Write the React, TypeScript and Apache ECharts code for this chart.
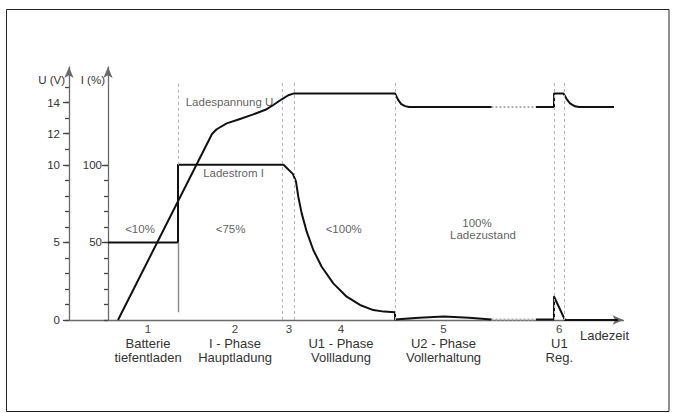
import React, { useEffect, useRef } from "react";
import * as echarts from "echarts";

// ---- Axis ticks and labels ----
const uMax = 16.3;
const uMinorTickTop = 15;
const uMinorTickStep = 1;
const uLabelValues = [0, 5, 10, 12, 14];
const iMax = 163;
const iMinorTickTop = 100;
const iMinorTickStep = 10;
const iLabelValues = [50, 100];
const axisTitles = ["U (V)", "I (%)"];

// ---- Phases along the time axis ----
const timeMax = 55.45;
const phaseCenters = [7.9, 16.6, 22.0, 27.2, 37.45, 49.03];
const phaseNumbers = ["1", "2", "3", "4", "5", "6"];
const phaseTitles = ["Batterie", "I - Phase", "", "U1 - Phase", "U2 - Phase", "U1"];
const phaseSubtitles = ["tiefentladen", "Hauptladung", "", "Vollladung", "Vollerhaltung", "Reg."];
const timeAxisTitle = "Ladezeit";
const timeAxisTitleAt = 53.55;

// phase boundaries (time) with dashed part from / to (voltage scale)
const dividerTimes = [10.9, 21.3, 22.5, 32.63, 48.53, 49.53];
const dividerFrom = [10, 0, 0, 0, 0, 0];
const dividerTop = 15.27;
const firstDividerSolid = [0.5, 5];

// ---- Charging voltage U (V) ----
const voltageBefore: [number, number][] = [
  [4.9, 0], [14.3, 11.98], [14.77, 12.29], [15.77, 12.67], [17.1, 12.95],
  [18.43, 13.25], [19.77, 13.58], [20.43, 13.85], [21.27, 14.22], [21.93, 14.48],
  [22.5, 14.6], [32.6, 14.6], [32.9, 14.2], [33.2, 13.92], [33.6, 13.78],
  [34.0, 13.72], [42.25, 13.72],
];
const voltageGap: [number, number][] = [[42.25, 13.72], [46.7, 13.72]];
const voltageAfter: [number, number][] = [
  [46.7, 13.72], [48.5, 13.72], [48.51, 14.6], [49.45, 14.6], [49.75, 14.25],
  [50.1, 13.95], [50.6, 13.77], [51.0, 13.72], [54.5, 13.72],
];

// ---- Charging current I (%) ----
const currentBefore: [number, number][] = [
  [3.9, 50], [10.9, 50], [10.9, 100], [21.45, 100], [22.4, 94], [22.7, 89.1],
  [22.93, 79.4], [23.27, 68.7], [23.77, 56.9], [24.43, 45.1], [25.27, 34.3],
  [26.43, 23.6], [27.77, 15.0], [29.1, 9.7], [30.43, 6.4], [31.5, 5.4],
  [32.6, 5.0], [32.61, 0.4], [35.0, 1.5], [37.5, 2.2], [40.0, 1.5], [42.25, 0.4],
];
const currentGap: [number, number][] = [[42.25, 0.4], [46.7, 0.3]];
const currentAfter: [number, number][] = [
  [46.7, 0.3], [48.5, 0.3], [48.51, 15], [49.6, 0], [54.9, 0],
];

// ---- Annotations (time, voltage scale) ----
const noteTexts = ["Ladespannung U", "Ladestrom I", "<10%", "<75%", "<100%", "100%", "Ladezustand"];
const noteTimes = [16.05, 16.45, 7.1, 16.16, 27.47, 40.8, 41.4];
const noteVolts = [14.05, 9.45, 5.84, 5.84, 5.84, 6.27, 5.48];

const FONT = "'Liberation Sans', Arial, sans-serif";
const TEXT = "#333";
const AXIS = "#6a6a6a";
const CURVE = "#111";

export default function App() {
  const ref = useRef<HTMLDivElement>(null);

  useEffect(() => {
    if (!ref.current) return;
    const chart = echarts.init(ref.current, undefined, { renderer: "svg" });

    const GRID_LEFT = 69;
    const GRID_RIGHT = 52.5;
    const GRID_TOP = 67;
    const GRID_BOTTOM = 93;
    const plotH = 413 - GRID_TOP - GRID_BOTTOM;
    const pxPerVolt = plotH / uMax;
    const I_OFFSET = -39;

    const arrowLine = {
      show: true,
      onZero: false,
      symbol: ["none", "arrow"],
      symbolSize: [7, 11],
      lineStyle: { color: AXIS, width: 1.3 },
    };

    const dividerLines: any[] = dividerTimes.map((t, i) => [
      { coord: [t, dividerFrom[i]] },
      { coord: [t, dividerTop] },
    ]);
    dividerLines.push([
      { coord: [dividerTimes[0], firstDividerSolid[0]], lineStyle: { color: "#8a8a8a", type: "solid", width: 1.4 } },
      { coord: [dividerTimes[0], firstDividerSolid[1]] },
    ]);

    const hiddenX = (gridIndex: number) => ({
      type: "value", gridIndex, min: 0, max: timeMax, show: false,
    });

    const minorTickAxis = (gridIndex: number, max: number, step: number, offset: number) => ({
      type: "value", gridIndex, min: 0, max, interval: step, position: "left", offset,
      axisLine: { show: false, onZero: false },
      axisTick: { show: true, length: 4, lineStyle: { color: "#444", width: 1.3 } },
      axisLabel: { show: false },
      splitLine: { show: false },
    });

    const curve = (name: string, yAxisIndex: number, data: [number, number][]) => ({
      type: "line", name, xAxisIndex: 0, yAxisIndex, data, z: 4,
      showSymbol: false, symbol: "none",
      lineStyle: { color: CURVE, width: 2, join: "round" },
    });

    const option: any = {
      animation: false,
      backgroundColor: "#fff",
      textStyle: { fontFamily: FONT },
      grid: [
        { left: GRID_LEFT, right: GRID_RIGHT, top: GRID_TOP, bottom: GRID_BOTTOM },
        { left: GRID_LEFT, right: GRID_RIGHT, top: 413 - GRID_BOTTOM - (iMinorTickTop / iMax) * plotH, bottom: GRID_BOTTOM },
        { left: GRID_LEFT, right: GRID_RIGHT, top: 413 - GRID_BOTTOM - uMinorTickTop * pxPerVolt, bottom: GRID_BOTTOM },
      ],
      xAxis: [
        {
          type: "value",
          gridIndex: 0,
          min: 0,
          max: timeMax,
          axisLine: arrowLine,
          axisTick: { show: false },
          splitLine: { show: false },
          axisLabel: {
            show: true,
            customValues: [...phaseCenters, timeAxisTitleAt],
            margin: 2,
            color: TEXT,
            fontFamily: FONT,
            formatter: (v: number) => {
              if (Math.abs(v - timeAxisTitleAt) < 1e-6) return `{z|${timeAxisTitle}}`;
              const i = phaseCenters.findIndex((c) => Math.abs(c - v) < 1e-6);
              if (i < 0) return "";
              let s = `{n|${phaseNumbers[i]}}`;
              if (phaseTitles[i]) s += `\n{t|${phaseTitles[i]}}`;
              if (phaseSubtitles[i]) s += `\n{t|${phaseSubtitles[i]}}`;
              return s;
            },
            rich: {
              n: { fontSize: 11.5, lineHeight: 14, color: "#444", fontFamily: FONT, align: "center" },
              t: { fontSize: 13, lineHeight: 14, color: TEXT, fontFamily: FONT, align: "center" },
              z: { fontSize: 13, lineHeight: 26, color: TEXT, fontFamily: FONT, align: "center" },
            },
          },
        },
        hiddenX(1),
        hiddenX(2),
      ],
      yAxis: [
        {
          type: "value", gridIndex: 0, min: 0, max: uMax, position: "left",
          axisLine: arrowLine,
          axisTick: { show: true, customValues: uLabelValues, length: 6, lineStyle: { color: "#444", width: 1.3 } },
          axisLabel: { show: true, customValues: uLabelValues, margin: 9, fontSize: 11.5, color: TEXT, fontFamily: FONT },
          splitLine: { show: false },
        },
        {
          type: "value", gridIndex: 0, min: 0, max: iMax, position: "left", offset: I_OFFSET,
          axisLine: arrowLine,
          axisTick: { show: true, customValues: iLabelValues, length: 6, lineStyle: { color: "#444", width: 1.3 } },
          axisLabel: { show: true, customValues: iLabelValues, margin: 6, fontSize: 11.5, color: TEXT, fontFamily: FONT },
          splitLine: { show: false },
        },
        minorTickAxis(1, iMinorTickTop, iMinorTickStep, I_OFFSET),
        minorTickAxis(2, uMinorTickTop, uMinorTickStep, 0),
      ],
      graphic: [
        {
          type: "rect",
          shape: { x: 6.5, y: 9.5, width: 662.5, height: 402 },
          style: { fill: "none", stroke: "#222", lineWidth: 1 },
          silent: true,
        },
        {
          type: "text", x: 65, y: 80,
          style: { text: axisTitles[0], fill: TEXT, font: `11.5px ${FONT}`, textAlign: "right", textVerticalAlign: "middle" },
        },
        {
          type: "text", x: 105, y: 80,
          style: { text: axisTitles[1], fill: TEXT, font: `11.5px ${FONT}`, textAlign: "right", textVerticalAlign: "middle" },
        },
      ],
      series: [
        {
          type: "line", name: "U gap", xAxisIndex: 0, yAxisIndex: 0, z: 1,
          data: voltageGap, showSymbol: false, symbol: "none", clip: false,
          lineStyle: { color: "#b0b0b0", width: 2, type: [2, 2] },
          markLine: {
            silent: true,
            symbol: ["none", "none"],
            label: { show: false },
            lineStyle: { color: "#b4b4b4", type: [3, 3], width: 1 },
            emphasis: { disabled: true },
            data: dividerLines,
          },
        },
        {
          type: "line", name: "I gap", xAxisIndex: 0, yAxisIndex: 1, z: 1,
          data: currentGap, showSymbol: false, symbol: "none",
          lineStyle: { color: "#b0b0b0", width: 2, type: [2, 2] },
        },
        curve("U1", 0, voltageBefore),
        curve("U2", 0, voltageAfter),
        curve("I1", 1, currentBefore),
        curve("I2", 1, currentAfter),
        {
          type: "scatter", name: "notes", xAxisIndex: 0, yAxisIndex: 0,
          symbolSize: 1,
          itemStyle: { color: "rgba(0,0,0,0)" },
          silent: true,
          data: noteTexts.map((t, i) => ({ name: t, value: [noteTimes[i], noteVolts[i]] })),
          label: {
            show: true,
            position: "inside",
            formatter: "{b}",
            fontSize: 11.5,
            color: TEXT,
            fontFamily: FONT,
            textBorderWidth: 0,
            textBorderColor: "transparent",
          },
        },
      ],
    };

    chart.setOption(option);
    return () => chart.dispose();
  }, []);

  return (
    <div
      ref={ref}
      style={{ position: "absolute", left: 0, top: 0, width: 676, height: 413, background: "#fff" }}
    />
  );
}
